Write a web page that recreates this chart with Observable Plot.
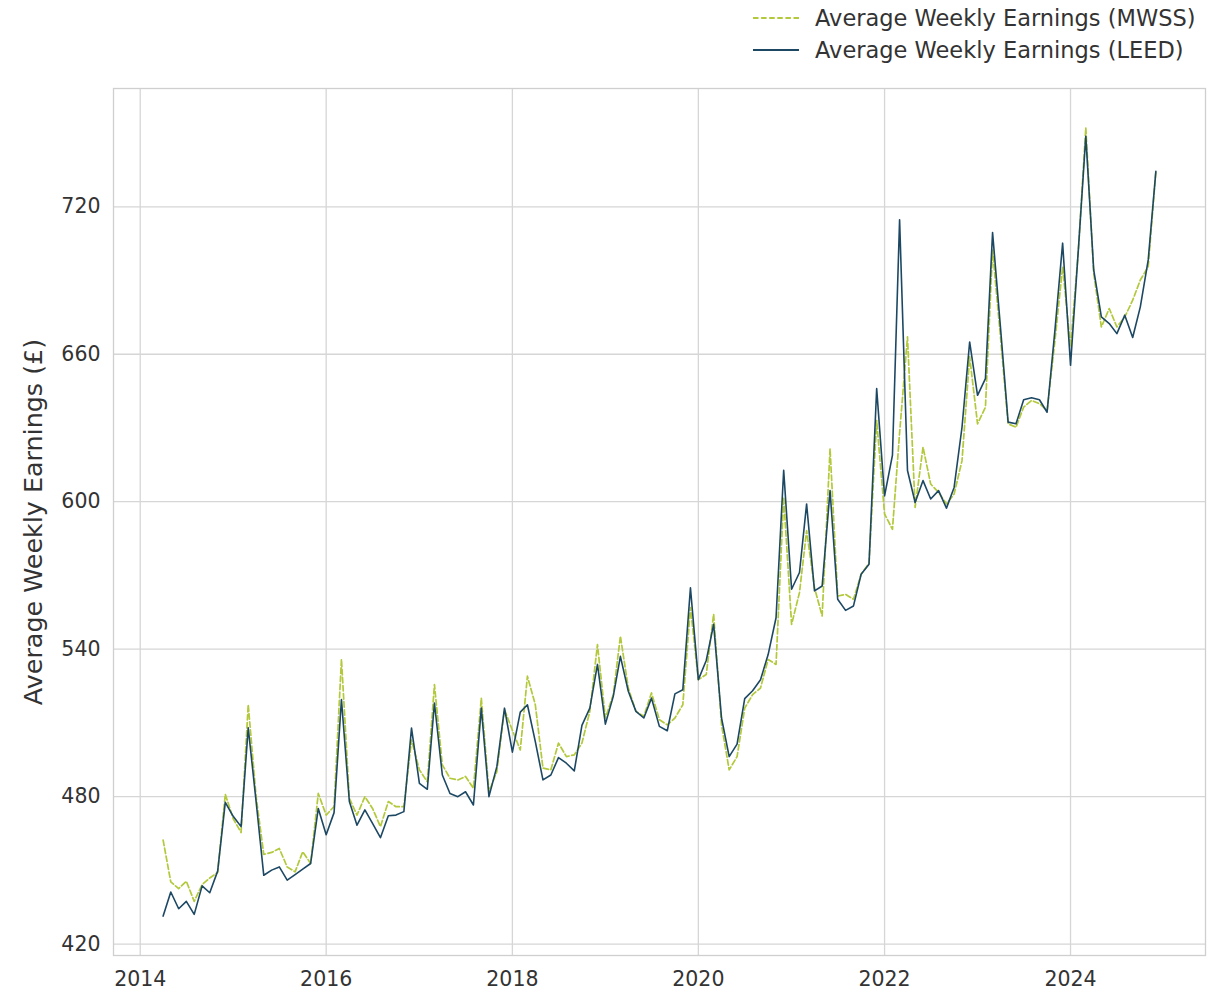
<!DOCTYPE html>
<html>
<head>
<meta charset="utf-8">
<script src="https://cdn.jsdelivr.net/npm/d3@7"></script>
<script src="https://cdn.jsdelivr.net/npm/@observablehq/plot@0.6"></script>
<style>
  html, body { margin: 0; padding: 0; background: #fff; }
  #wrap { position: relative; width: 1219px; height: 991px; font-family: "DejaVu Sans", sans-serif; color: #333; }
  .lg-row { position: absolute; left: 752px; height: 28px; display: flex; align-items: center; font-size: 22.5px; white-space: nowrap; }
  .lg-row svg { margin-right: 15px; }
  #chart { position: absolute; left: 0; top: 70px; }
</style>
</head>
<body>
<div id="wrap">
  <div id="legend"></div>
  <div id="chart"></div>
</div>
<script>
// ---- Data (monthly, April 2014 to December 2024) ----
const firstMonth = "2014-04-01";
const lastMonth = "2024-12-01";

const seriesNames = ["Average Weekly Earnings (MWSS)", "Average Weekly Earnings (LEED)"];
const seriesColors = ["#b3c83a", "#1d4864"];

const mwss = [
  462.3, 445.3, 442.6, 445.6, 437.4, 444.2, 446.9, 449.1, 481.0,
  471.0, 465.4, 517.4, 480.0, 456.5, 457.3, 458.9, 451.4, 449.4, 457.6, 452.8, 481.3,
  472.5, 476.0, 535.9, 479.3, 472.5, 480.0, 475.2, 467.8, 478.0, 475.9, 475.9, 503.0,
  490.9, 486.0, 525.6, 492.9, 487.5, 486.8, 488.2, 483.4, 520.1, 482.0, 490.2, 515.4,
  507.0, 499.0, 529.0, 517.4, 491.6, 490.9, 501.8, 496.3, 497.0, 501.8, 514.7, 541.9,
  512.0, 521.5, 545.3, 524.2, 514.7, 512.7, 522.2, 511.3, 509.2, 512.0, 517.4, 556.9,
  527.6, 529.7, 554.2, 509.2, 490.9, 496.3, 516.0, 521.5, 524.2, 535.8, 533.8, 601.8,
  550.1, 563.0, 588.2, 565.0, 553.5, 621.6, 561.6, 562.3, 560.3, 570.5, 575.0, 633.0,
  595.0, 588.8, 628.0, 667.1, 597.7, 622.2, 607.2, 603.8, 599.1, 603.1, 616.7, 659.0,
  631.7, 638.5, 702.4, 667.1, 631.7, 630.3, 638.5, 641.2, 639.9, 637.1, 665.7, 695.6,
  663.0, 702.4, 752.1, 692.9, 671.1, 678.6, 671.1, 675.2, 682.0, 690.2, 695.6, 734.4
];

const leed = [
  431.4, 441.2, 434.4, 437.4, 432.1, 443.7, 440.9, 449.7, 477.7,
  472.0, 467.8, 508.0, 478.0, 448.0, 450.1, 451.4, 446.0, 448.3, 450.5, 452.8, 475.2,
  464.5, 473.5, 519.5, 478.0, 468.4, 474.6, 469.1, 463.3, 472.2, 472.5, 473.9, 507.9,
  485.4, 483.0, 518.1, 488.8, 481.3, 480.0, 482.0, 476.6, 516.0, 480.0, 492.2, 516.0,
  498.1, 514.4, 517.4, 502.4, 486.8, 488.8, 495.9, 493.6, 490.5, 509.0, 516.0, 533.8,
  509.5, 520.8, 537.1, 522.9, 514.7, 512.0, 520.1, 508.6, 506.8, 521.8, 523.5, 565.0,
  527.6, 535.4, 550.1, 512.0, 496.3, 501.4, 519.9, 523.1, 527.6, 537.8, 552.8, 612.8,
  564.4, 571.2, 599.1, 563.7, 565.7, 604.5, 560.3, 555.8, 557.6, 570.5, 574.6, 646.0,
  602.4, 619.0, 714.7, 612.7, 599.7, 608.6, 601.1, 604.5, 597.4, 605.8, 630.3, 665.0,
  643.3, 650.1, 709.5, 671.0, 632.4, 631.7, 641.5, 642.3, 641.5, 636.4, 670.0, 705.2,
  655.5, 703.0, 748.7, 694.3, 675.2, 672.5, 668.4, 675.9, 666.8, 679.3, 698.4, 734.4
];

const yTicks = [420, 480, 540, 600, 660, 720];
const xTickYears = [2014, 2016, 2018, 2020, 2022, 2024];
const yLabel = "Average Weekly Earnings (£)";

// ---- Build table ----
const start = new Date(firstMonth + "T00:00:00Z");
const end = new Date(lastMonth + "T00:00:00Z");
const dates = d3.utcMonth.range(start, d3.utcMonth.offset(end, 1));
const rows = [];
dates.forEach((d, i) => {
  rows.push({date: d, value: mwss[i], series: seriesNames[0]});
  rows.push({date: d, value: leed[i], series: seriesNames[1]});
});

// matplotlib-like 5% margins
const span = end - start;
const xDomain = [new Date(+start - 0.05 * span), new Date(+end + 0.05 * span)];
const all = mwss.concat(leed);
const yMin = d3.min(all), yMax = d3.max(all);
const yPad = (yMax - yMin) * 0.05;
const yDomain = [yMin - yPad, yMax + yPad];
const xTicks = xTickYears.map(y => new Date(Date.UTC(y, 0, 1)));

const gridColor = "#d6d6d6";

const chart = Plot.plot({
  width: 1219,
  height: 921,
  marginLeft: 113,
  marginRight: 14,
  marginTop: 18,
  marginBottom: 36,
  style: {fontFamily: "DejaVu Sans, sans-serif", fontSize: "20.5px", color: "#333", background: "#fff"},
  x: {type: "utc", domain: xDomain},
  y: {domain: yDomain},
  marks: [
    Plot.gridX(xTicks, {stroke: gridColor, strokeOpacity: 1, strokeWidth: 1.3}),
    Plot.gridY(yTicks, {stroke: gridColor, strokeOpacity: 1, strokeWidth: 1.3}),
    Plot.frame({stroke: "#cfcfcf", strokeWidth: 1.3}),
    Plot.axisX(xTicks, {tickSize: 0, tickPadding: 16, tickFormat: d3.utcFormat("%Y"), label: null, fill: "#333"}),
    Plot.axisY(yTicks, {tickSize: 0, tickPadding: 13, label: null, fill: "#333"}),
    Plot.text([yLabel], {frameAnchor: "left", dx: -80, rotate: -90, textAnchor: "middle", fontSize: 25.4, fill: "#333"}),
    Plot.line(rows.filter(r => r.series === seriesNames[0]), {
      x: "date", y: "value", stroke: seriesColors[0], strokeWidth: 1.7, strokeDasharray: "5.5,2.6", curve: "linear"
    }),
    Plot.line(rows.filter(r => r.series === seriesNames[1]), {
      x: "date", y: "value", stroke: seriesColors[1], strokeWidth: 1.6, curve: "linear"
    })
  ]
});
document.getElementById("chart").appendChild(chart);

// ---- Legend ----
const legend = document.getElementById("legend");
seriesNames.forEach((name, i) => {
  const row = document.createElement("div");
  row.className = "lg-row";
  row.style.top = (i === 0 ? 4 : 36) + "px";
  const dash = i === 0 ? 'stroke-dasharray="5.5,2.6"' : "";
  row.innerHTML = `<svg width="48" height="10"><line x1="1" y1="5" x2="47" y2="5" stroke="${seriesColors[i]}" stroke-width="1.8" ${dash}/></svg><span>${name}</span>`;
  legend.appendChild(row);
});
</script>
</body>
</html>
